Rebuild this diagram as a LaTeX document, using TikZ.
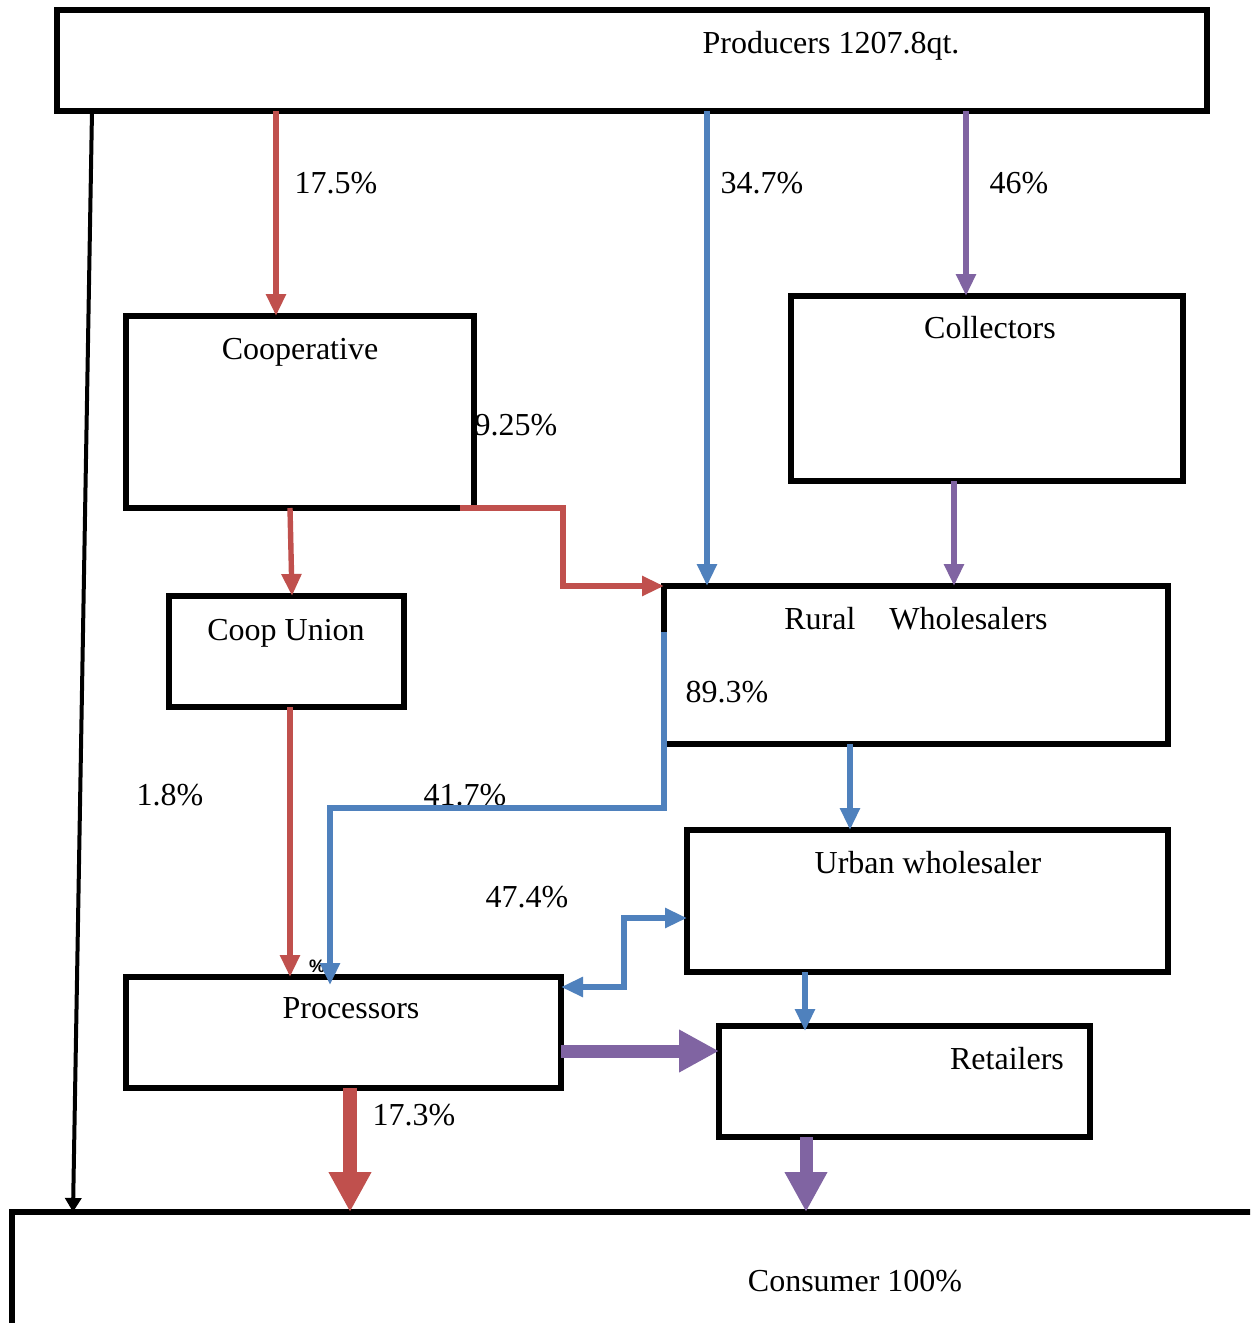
\documentclass[tikz,border=0pt]{standalone}
\usepackage{fontspec}
\setmainfont{Liberation Serif}
\newfontfamily\pctfont{Liberation Sans}
\usetikzlibrary{arrows.meta,fit}
\definecolor{cred}{RGB}{192,80,77}
\definecolor{cblue}{RGB}{79,129,189}
\definecolor{cpurp}{RGB}{128,100,162}
\begin{document}
\begin{tikzpicture}[x=0.5pt,y=-0.5pt,
  box/.style={draw,line width=3pt,inner sep=0pt,outer sep=0pt},
  lab/.style={anchor=base,inner sep=0pt,font=\fontsize{16}{19}\selectfont},
  thinarr/.style={line width=2.7pt,-{Triangle[length=11pt,width=9.5pt]}},
  thickarr/.style={line width=6.5pt,-{Triangle[length=20pt,width=20pt]}},
  blackarr/.style={line width=2pt,-{Triangle[length=7pt,width=8pt]}}]
\clip (0,0) rectangle (1250,1323);
\fill[white] (0,0) rectangle (1250,1323);
% boxes
\node[box,fit={(57,10)(1207,111)}] (prod) {};
\node[box,fit={(126,316)(474,508)}] (coop) {};
\node[box,fit={(169,596)(404,707)}] (coopu) {};
\node[box,fit={(791,296)(1183,481)}] (coll) {};
\node[box,fit={(664,586)(1168,744)}] (rural) {};
\node[box,fit={(687,830)(1168,972)}] (urban) {};
\node[box,fit={(126,977)(561,1088)}] (proc) {};
\node[box,fit={(719,1026)(1090,1137)}] (ret) {};
\node[box,fit={(12,1212)(1330,1420)}] (cons) {};
% texts
\node[lab] (tprod) at (831,53) {Producers 1207.8qt.};
\node[lab] (p175) at (336,193) {17.5\%};
\node[lab] (p347) at (762,193) {34.7\%};
\node[lab] (p46) at (1019,193) {46\%};
\node[lab] (tcoop) at (300,359) {Cooperative};
\node[lab] (tcoll) at (990,338) {Collectors};
\node[lab] (p925) at (516,435) {9.25\%};
\node[lab] (tcoopu) at (286,640) {Coop Union};
\node[lab] (trural) at (916,629) {Rural\hspace{17pt}Wholesalers};
\node[lab] (p893) at (727,702) {89.3\%};
\node[lab] (p18) at (170,805) {1.8\%};
\node[lab] (p417) at (465,805) {41.7\%};
\node[lab] (turban) at (928,873) {Urban wholesaler};
\node[lab] (p474) at (527,907) {47.4\%};
\node[inner sep=0pt,font=\pctfont\bfseries\fontsize{9}{10}\selectfont] (pct) at (317,966) {\%};
\node[lab] (tproc) at (351,1018) {Processors};
\node[lab] (tret) at (1007,1069) {Retailers};
\node[lab] (p173) at (414,1125) {17.3\%};
\node[lab] (tcons) at (855,1291) {Consumer 100\%};
% connectors
\draw[blackarr] (92,0 |- prod.south) -- (73,0 |- cons.north);
\draw[thinarr,cred] (276,0 |- prod.south) -- (276,0 |- coop.north);
\draw[thinarr,cred] (290,0 |- coop.south) -- (292,0 |- coopu.north);
\draw[thinarr,cred] (460,0 |- coop.south) -| (563,0 |- rural.north) -- (rural.north west);
\draw[thinarr,cred] (290,0 |- coopu.south) -- (290,0 |- proc.north);
\draw[thinarr,cblue] (707,0 |- prod.south) -- (707,0 |- rural.north);
\draw[thinarr,cpurp] (966,0 |- prod.south) -- (966,0 |- coll.north);
\draw[thinarr,cpurp] (954,0 |- coll.south) -- (954,0 |- rural.north);
\draw[thinarr,cblue] (rural.west |- 0,632) -- (rural.west |- 0,808) -| (330,985);
\draw[thinarr,cblue] (850,0 |- rural.south) -- (850,0 |- urban.north);
\draw[line width=2.7pt,cblue,{Triangle[length=11pt,width=9.5pt]}-{Triangle[length=11pt,width=9.5pt]}]
  (proc.east |- 0,987) -| (624,918) -- (urban.west |- 0,918);
\draw[thinarr,cblue] (805,0 |- urban.south) -- (805,1031);
\draw[thickarr,cpurp] (proc.east |- 0,1051) -- (ret.west |- 0,1051);
\draw[thickarr,cred,line width=7pt] (350,0 |- proc.south) -- (350,0 |- cons.north);
\draw[thickarr,cpurp] (806,0 |- ret.south) -- (806,0 |- cons.north);
\end{tikzpicture}
\end{document}
